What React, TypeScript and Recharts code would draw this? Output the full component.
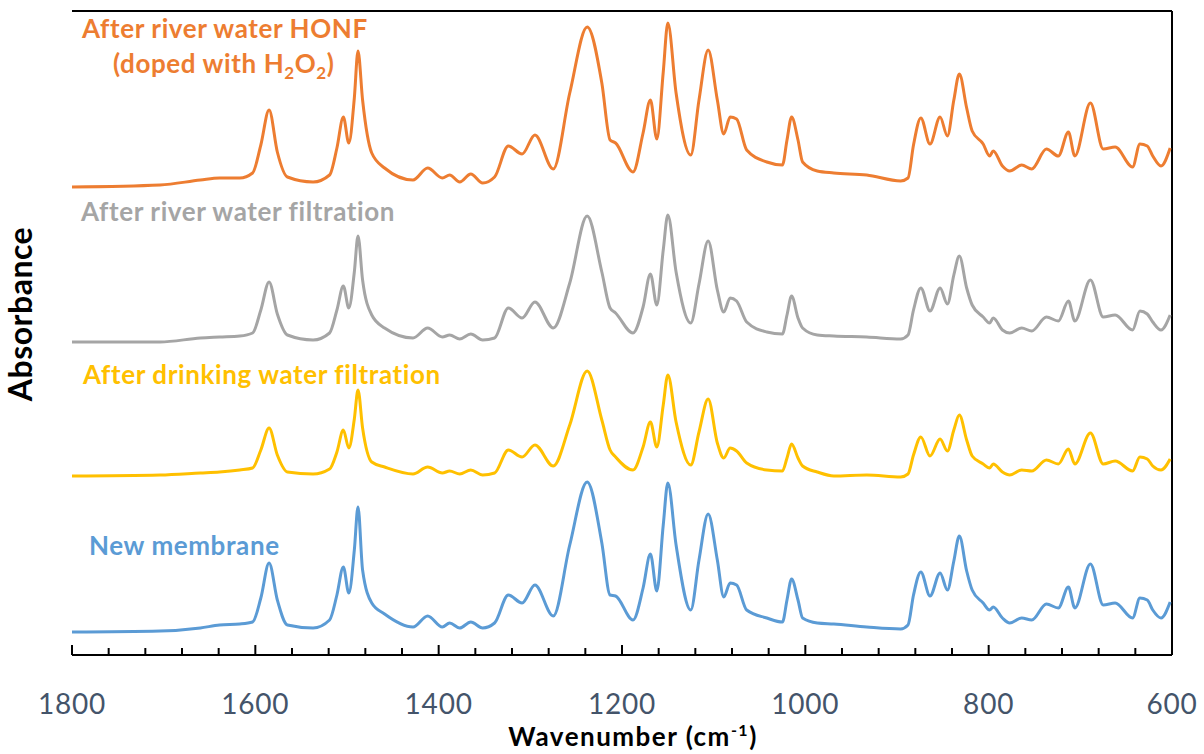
import { LineChart, Line, XAxis, YAxis, ReferenceLine } from "recharts";

// wavenumber grid (cm-1), shared by the four spectra
const wavenumbers = [
  1800, 1704, 1660, 1639, 1617, 1603, 1594, 1585, 1576, 1565, 1537, 1519, 1511, 1504, 1498, 1492,
  1488, 1483, 1473, 1459, 1428, 1412, 1396, 1388, 1377, 1365, 1352, 1339, 1324, 1309, 1295, 1275,
  1257, 1238, 1222, 1213, 1207, 1188, 1177, 1169, 1162, 1155, 1150, 1141, 1125, 1116, 1106, 1096,
  1089, 1082, 1075, 1064, 1042, 1025, 1020, 1015, 1008, 1003, 987, 969, 933, 896, 888, 882, 874,
  864, 853, 845, 838, 832, 824, 818, 806, 799, 795, 785, 777, 764, 753, 737, 724, 713, 706, 689,
  675, 662, 643, 635, 627, 621, 612, 602,
];

// stacked absorbance (arbitrary units, offset per spectrum)
const newMembrane = [
  23, 24, 27, 30, 31, 33, 57, 92, 55, 30, 27, 35, 60, 88, 62, 105, 148, 85, 52, 41, 28, 39, 28, 32,
  27, 33, 27, 32, 60, 52, 70, 39, 110, 173, 112, 60, 59, 35, 67, 101, 64, 130, 172, 110, 45, 95,
  141, 95, 58, 72, 70, 45, 37, 33, 55, 76, 55, 37, 32, 31, 28, 26, 30, 60, 83, 59, 82, 65, 94, 119,
  84, 65, 52, 45, 48, 37, 32, 37, 35, 51, 47, 68, 47, 91, 50, 52, 37, 57, 55, 45, 37, 53,
];

const drinkingWater = [
  179, 180, 182, 183, 185, 187, 205, 227, 200, 183, 181, 186, 203, 225, 207, 236, 265, 227, 193,
  188, 181, 188, 182, 184, 181, 185, 180, 182, 205, 198, 210, 189, 230, 284, 235, 205, 198, 185,
  208, 233, 208, 250, 280, 233, 190, 223, 256, 212, 197, 207, 204, 192, 185, 184, 197, 211, 197,
  189, 183, 179, 180, 178, 181, 200, 218, 199, 216, 204, 225, 240, 215, 199, 191, 187, 191, 183,
  180, 185, 184, 195, 191, 206, 191, 222, 191, 194, 184, 198, 196, 189, 185, 196,
];

const riverWater = [
  313, 313, 317, 318, 319, 322, 345, 373, 341, 320, 315, 322, 345, 369, 347, 383, 419, 375, 340,
  327, 317, 327, 318, 320, 316, 321, 315, 317, 347, 337, 353, 327, 372, 439, 383, 347, 342, 322,
  348, 381, 350, 405, 440, 383, 332, 371, 414, 365, 343, 357, 354, 333, 323, 321, 340, 359, 337,
  327, 320, 319, 318, 316, 320, 345, 367, 344, 367, 351, 380, 399, 367, 350, 338, 332, 337, 325,
  322, 327, 324, 338, 334, 354, 334, 375, 338, 340, 325, 344, 341, 333, 325, 340,
];

const riverHonf = [
  468, 470, 475, 477, 477, 482, 510, 545, 503, 478, 473, 480, 507, 538, 512, 557, 604, 555, 502,
  487, 475, 487, 477, 480, 473, 481, 472, 478, 509, 501, 520, 486, 562, 628, 572, 515, 512, 483,
  522, 555, 516, 583, 632, 562, 500, 555, 605, 555, 521, 538, 536, 505, 493, 490, 515, 538, 515,
  493, 484, 482, 480, 474, 477, 510, 537, 511, 538, 519, 555, 581, 547, 524, 511, 499, 504, 489,
  484, 490, 486, 506, 499, 523, 499, 552, 506, 508, 488, 511, 509, 499, 489, 507,
];

const xTicks = [
  1800, 1760, 1720, 1680, 1640, 1600, 1560, 1520, 1480, 1440, 1400, 1360, 1320, 1280, 1240, 1200,
  1160, 1120, 1080, 1040, 1000, 960, 920, 880, 840, 800, 760, 720, 680, 640, 600,
];

const data = wavenumbers.map((wn, i) => ({
  wn,
  honf: riverHonf[i],
  river: riverWater[i],
  drinking: drinkingWater[i],
  fresh: newMembrane[i],
}));

const FONT = "Lato, 'Open Sans', sans-serif";

const XTick = (props: any) => {
  const { x, y, payload } = props;
  const major = payload.value % 200 === 0;
  return (
    <g>
      <line x1={x} x2={x} y1={y} y2={y - (major ? 10 : 7)} stroke="#000" strokeWidth={2} />
      {major && (
        <text x={x} y={y + 59} textAnchor="middle" fontSize={28} letterSpacing={0.8} fill="#44546A" fontFamily={FONT}>
          {payload.value}
        </text>
      )}
    </g>
  );
};

export default function App() {
  return (
    <div style={{ position: "absolute", left: 0, top: 0, width: 1204, height: 754, background: "#fff" }}>
      <LineChart
        width={1204}
        height={754}
        data={data}
        margin={{ top: 11, right: 32, bottom: 0, left: 72 }}
      >
        <XAxis
          dataKey="wn"
          type="number"
          domain={[600, 1800]}
          reversed
          ticks={xTicks}
          interval={0}
          height={99}
          tickSize={0}
          tickMargin={0}
          tickLine={false}
          tick={<XTick />}
          axisLine={{ stroke: "#000", strokeWidth: 2 }}
        />
        <YAxis
          domain={[0, 644]}
          width={0}
          tick={false}
          tickLine={false}
          axisLine={{ stroke: "#000", strokeWidth: 2 }}
        />
        <ReferenceLine y={644} stroke="#000" strokeWidth={2} />
        <ReferenceLine x={600} stroke="#000" strokeWidth={2} />
        <Line type="monotone" dataKey="honf" stroke="#ED7D31" strokeWidth={3} dot={false} isAnimationActive={false} />
        <Line type="monotone" dataKey="river" stroke="#A5A5A5" strokeWidth={3} dot={false} isAnimationActive={false} />
        <Line type="monotone" dataKey="drinking" stroke="#FFC000" strokeWidth={3} dot={false} isAnimationActive={false} />
        <Line type="monotone" dataKey="fresh" stroke="#5B9BD5" strokeWidth={3} dot={false} isAnimationActive={false} />
      </LineChart>
      <svg
        width={1204}
        height={754}
        style={{ position: "absolute", left: 0, top: 0, pointerEvents: "none" }}
        fontFamily={FONT}
        fontWeight="bold"
      >
        <text x={82} y={38} fontSize={26} letterSpacing={0.6} fill="#ED7D31">After river water HONF</text>
        <text x={113} y={73} fontSize={26} letterSpacing={0.6} fill="#ED7D31">
          (doped with H<tspan fontSize={17} dy={6}>2</tspan>
          <tspan dy={-6}>O</tspan>
          <tspan fontSize={17} dy={6}>2</tspan>
          <tspan dy={-6}>)</tspan>
        </text>
        <text x={81} y={221} fontSize={26} letterSpacing={0.6} fill="#A5A5A5">After river water filtration</text>
        <text x={83} y={384} fontSize={26} letterSpacing={0.6} fill="#FFC000">After drinking water filtration</text>
        <text x={89} y={555} fontSize={26} letterSpacing={0.6} fill="#5B9BD5">New membrane</text>
        <text x={633} y={746} fontSize={26} letterSpacing={1.5} fill="#000" textAnchor="middle">
          Wavenumber (cm<tspan fontSize={16} dy={-10}>-1</tspan>
          <tspan dy={10}>)</tspan>
        </text>
        <text x={0} y={0} fontSize={32} letterSpacing={0.5} fill="#000" textAnchor="middle" transform="translate(32,314) rotate(-90)">
          Absorbance
        </text>
      </svg>
    </div>
  );
}
